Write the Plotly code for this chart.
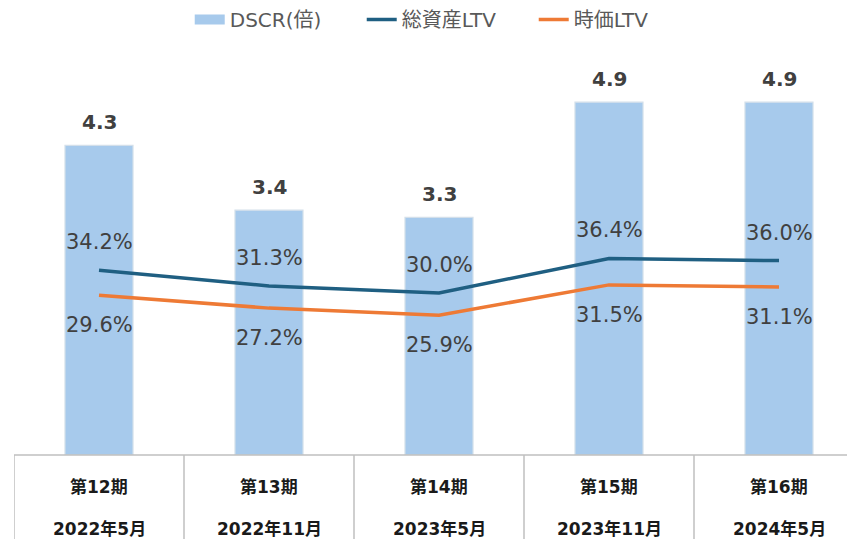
import plotly.graph_objects as go

periods = ["第12期", "第13期", "第14期", "第15期", "第16期"]
dates = ["2022年5月", "2022年11月", "2023年5月", "2023年11月", "2024年5月"]
dscr = [4.3, 3.4, 3.3, 4.9, 4.9]
ltv_total = [34.2, 31.3, 30.0, 36.4, 36.0]
ltv_market = [29.6, 27.2, 25.9, 31.5, 31.1]

cats = periods
label_font = "DejaVu Sans"
tbl_font = "DejaVu Sans, Noto Sans CJK JP"
leg_font = "DejaVu Sans, Noto Sans CJK JP"
bar_color = "#a7caec"

fig = go.Figure()
fig.add_trace(go.Bar(
    x=cats, y=dscr, name="DSCR(倍)", width=0.4, showlegend=False,
    marker=dict(color=bar_color, line=dict(color="#d3dfea", width=1.2)),
    yaxis="y",
))
# legend swatch for the bars (wide rectangle like the reference)
fig.add_trace(go.Scatter(
    x=[None], y=[None], name="DSCR(倍)", mode="lines",
    line=dict(color=bar_color, width=13), yaxis="y",
))
fig.add_trace(go.Scatter(
    x=cats, y=ltv_total, name="総資産LTV", mode="lines",
    line=dict(color="#1f5f82", width=3.5), yaxis="y2",
))
fig.add_trace(go.Scatter(
    x=cats, y=ltv_market, name="時価LTV", mode="lines",
    line=dict(color="#ee7a35", width=3.5), yaxis="y2",
))

ann = []
for c, v in zip(cats, dscr):
    ann.append(dict(x=c, y=v, xref="x", yref="y", text=f"<b>{v:.1f}</b>",
                    showarrow=False, yanchor="middle", yshift=23,
                    font=dict(family=label_font, size=20, color="#404040")))
for c, v in zip(cats, ltv_total):
    ann.append(dict(x=c, y=v, xref="x", yref="y2", text=f"{v:.1f}%",
                    showarrow=False, yanchor="middle", yshift=28,
                    font=dict(family=label_font, size=21, color="#404040")))
for c, v in zip(cats, ltv_market):
    ann.append(dict(x=c, y=v, xref="x", yref="y2", text=f"{v:.1f}%",
                    showarrow=False, yanchor="middle", yshift=-30,
                    font=dict(family=label_font, size=21, color="#404040")))
for c, p, d in zip(cats, periods, dates):
    ann.append(dict(x=c, y=-0.074, xref="x", yref="paper", text=f"<b>{p}</b>",
                    showarrow=False, yanchor="middle",
                    font=dict(family=tbl_font, size=17, color="#1a1a1a")))
    ann.append(dict(x=c, y=-0.171, xref="x", yref="paper", text=f"<b>{d}</b>",
                    showarrow=False, yanchor="middle",
                    font=dict(family=tbl_font, size=17, color="#1a1a1a")))

shapes = [dict(type="line", xref="x", yref="paper", x0=-0.5, x1=4.6, y0=0, y1=0,
               line=dict(color="#bfbfbf", width=1.5))]
for i in range(len(cats)):
    shapes.append(dict(type="line", xref="x", yref="paper", x0=i - 0.5, x1=i - 0.5,
                       y0=0, y1=-0.3, line=dict(color="#bfbfbf", width=1.5)))

fig.update_layout(
    width=847, height=539,
    margin=dict(l=14, r=0, t=23, b=84, autoexpand=False),
    paper_bgcolor="white", plot_bgcolor="white",
    xaxis=dict(range=[-0.5, 4.4], showticklabels=False, showgrid=False,
               zeroline=False, showline=False, ticks=""),
    yaxis=dict(range=[0, 6], visible=False, showgrid=False, zeroline=False),
    yaxis2=dict(range=[0, 80], visible=False, overlaying="y", side="right",
                showgrid=False, zeroline=False),
    legend=dict(orientation="h", xref="container", yref="container",
                x=0.224, xanchor="left", y=1.0, yanchor="top",
                entrywidth=127, entrywidthmode="pixels",
                font=dict(family=leg_font, size=20, color="#595959"),
                bgcolor="rgba(255,255,255,0)", itemwidth=30, traceorder="normal"),
    annotations=ann, shapes=shapes,
    showlegend=True,
)
fig.write_html("out.html")
